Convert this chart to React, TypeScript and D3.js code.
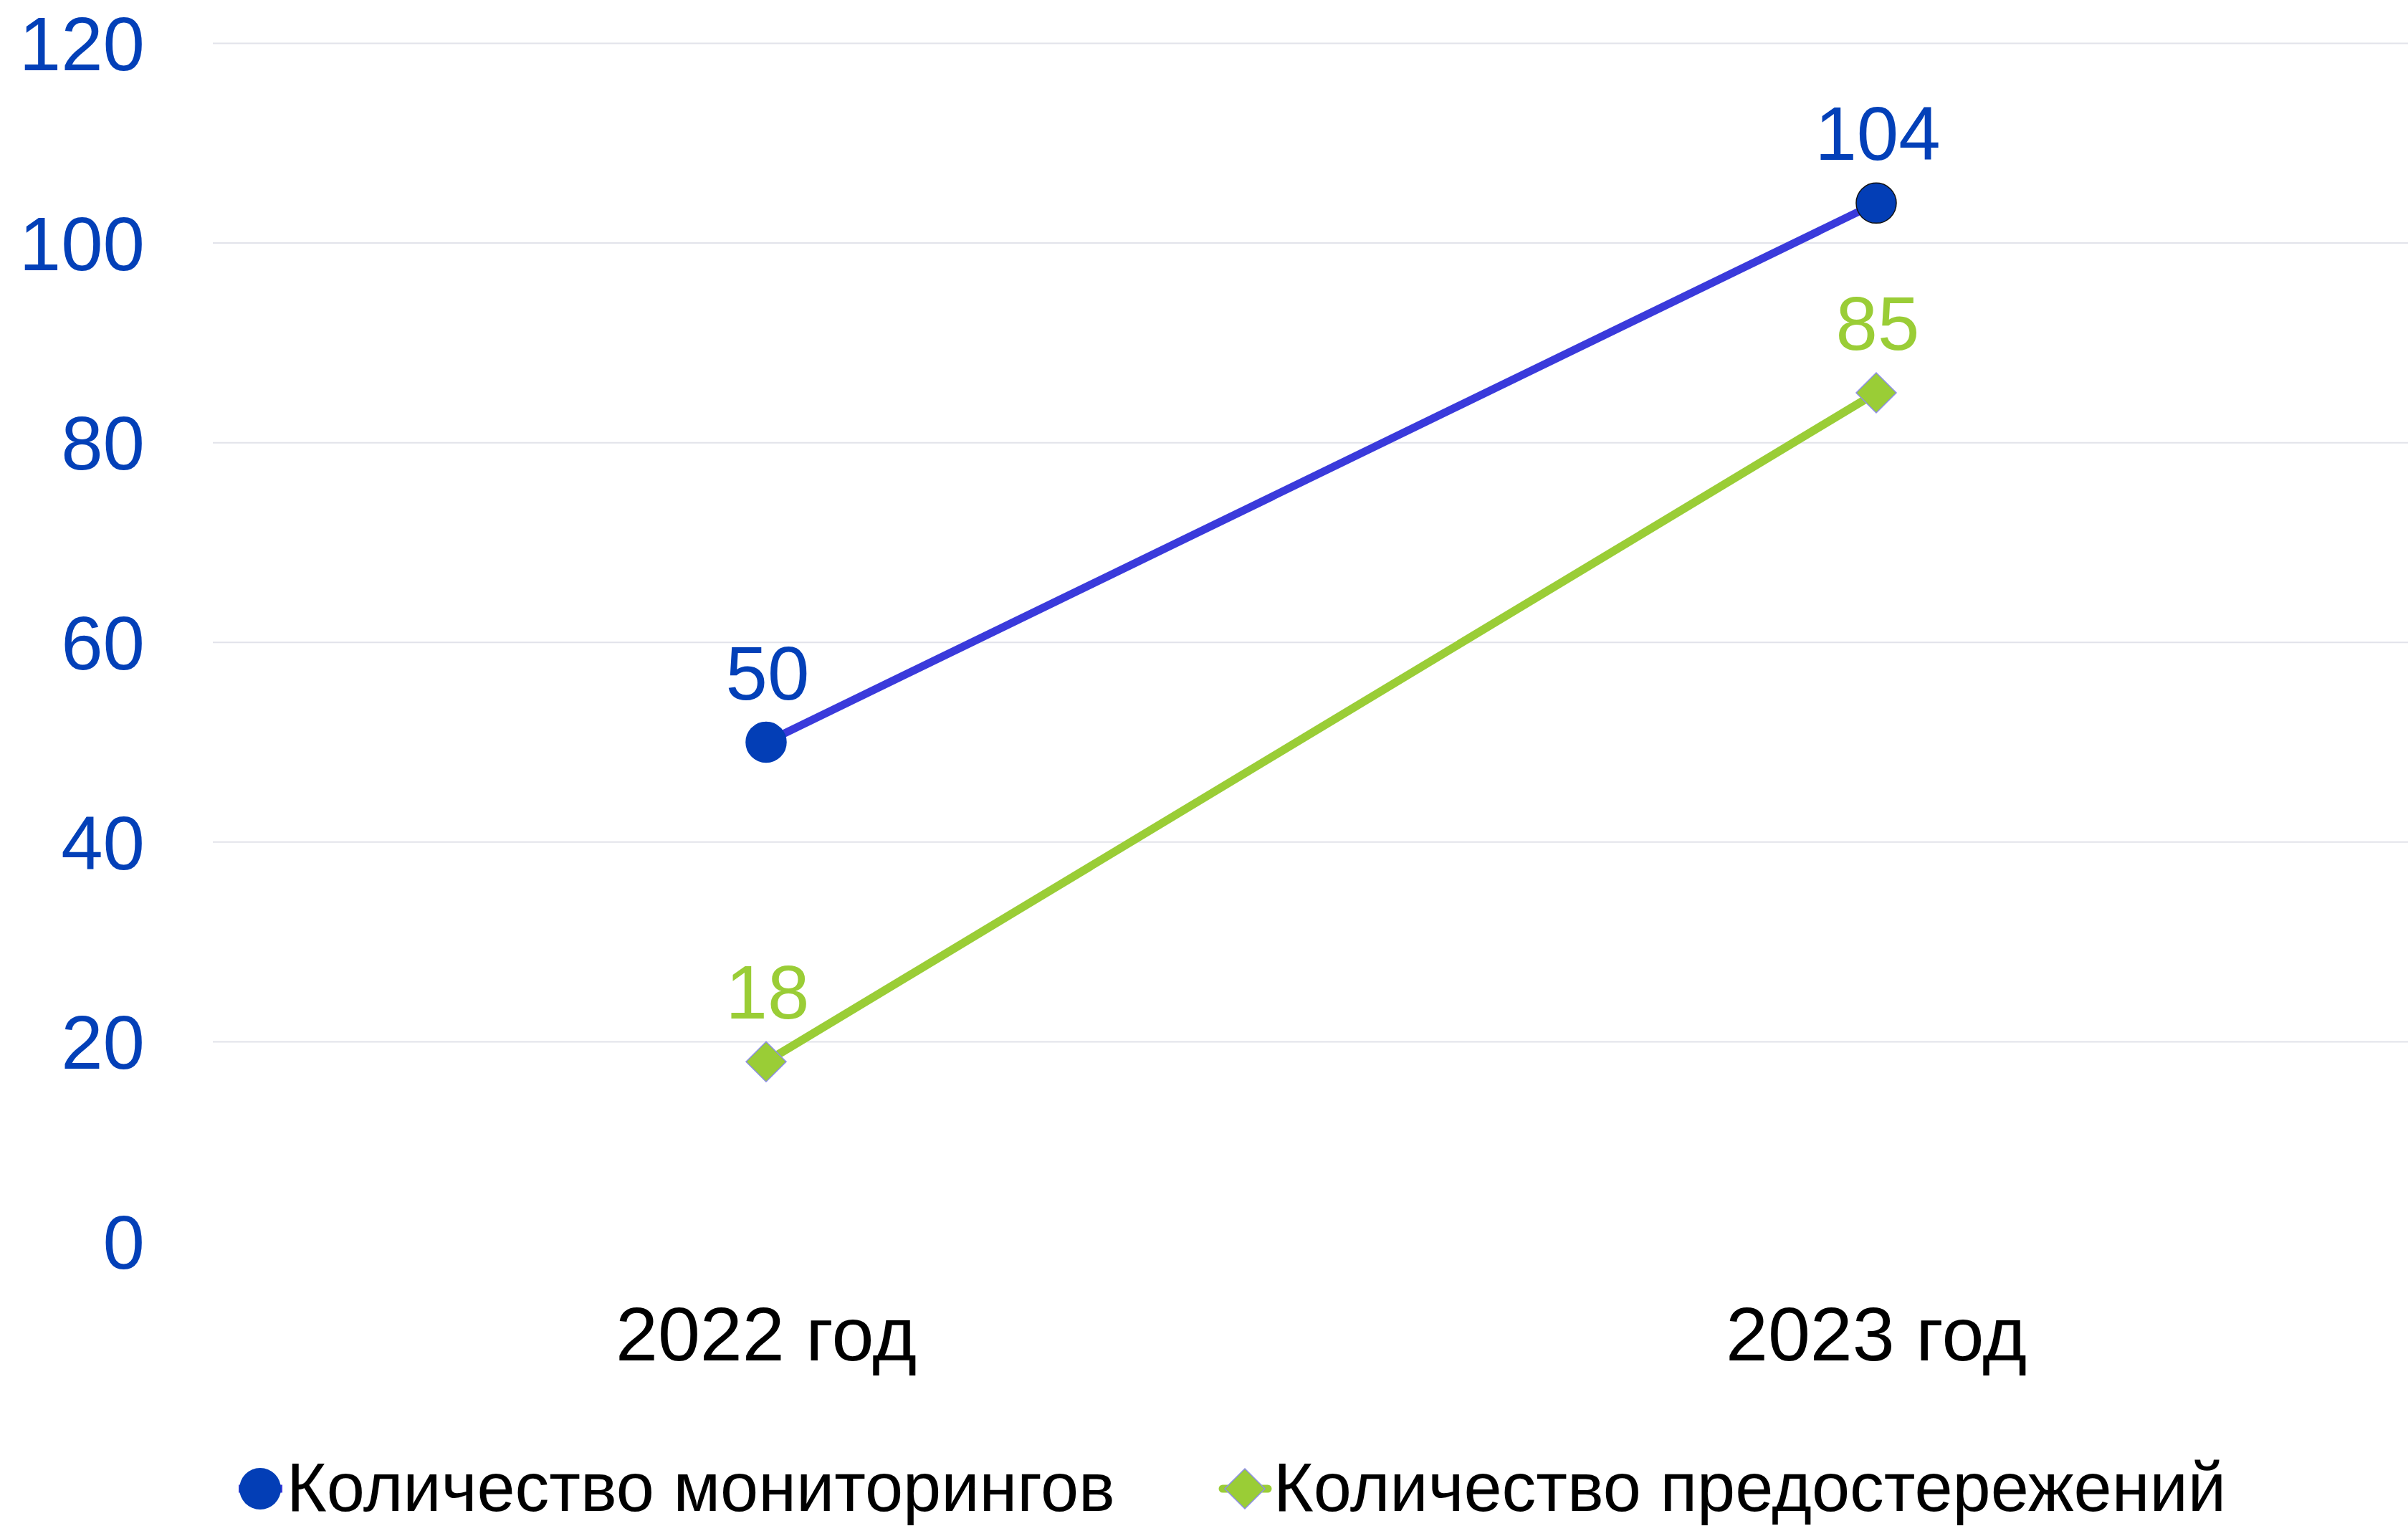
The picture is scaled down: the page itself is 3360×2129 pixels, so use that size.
import React from "react";
import * as d3 from "d3";

const categories = ["2022 год", "2023 год"];
const monitoringValues = [50, 104];
const warningValues = [18, 85];
const yTicks = [0, 20, 40, 60, 80, 100, 120];
const seriesNames = ["Количество мониторингов", "Количество предостережений"];

const W = 3360;
const H = 2129;
const FONT = "'Liberation Sans', Arial, sans-serif";
const BLUE_TEXT = "#0340B8";
const BLUE_LINE = "#3A3ADB";
const BLUE_MARK = "#033EB6";
const GREEN = "#9ACD36";

export default function App() {
  const x = d3.scalePoint<string>().domain(categories).range([1069, 2618]);
  const y = d3.scaleLinear().domain([0, 120]).range([1732, 60.5]);
  const gridLeft = 297;

  const line = d3
    .line<number>()
    .x((_, i) => x(categories[i]) as number)
    .y((d) => y(d));

  const diamond = (cx: number, cy: number, r: number) =>
    `M${cx},${cy - r}L${cx + r},${cy}L${cx},${cy + r}L${cx - r},${cy}Z`;

  return (
    <svg
      width={W}
      height={H}
      style={{ position: "absolute", left: 0, top: 0, background: "#fff" }}
      fontFamily={FONT}
    >
      <rect x={0} y={0} width={W} height={H} fill="#fff" />
      {yTicks
        .filter((t) => t !== 0)
        .map((t) => (
          <line
            key={"g" + t}
            x1={gridLeft}
            x2={W}
            y1={y(t)}
            y2={y(t)}
            stroke="#E2E3EA"
            strokeWidth={2}
          />
        ))}
      {yTicks.map((t) => (
        <text
          key={"yt" + t}
          x={202}
          y={y(t)}
          dy="0.36em"
          textAnchor="end"
          fontSize={105}
          fill={BLUE_TEXT}
        >
          {t}
        </text>
      ))}
      {categories.map((c) => (
        <text
          key={"x" + c}
          x={x(c)}
          y={1898}
          textAnchor="middle"
          fontSize={106}
          fill="#000"
        >
          {c}
        </text>
      ))}
      <path d={line(warningValues) || ""} fill="none" stroke={GREEN} strokeWidth={11.5} />
      <path d={line(monitoringValues) || ""} fill="none" stroke={BLUE_LINE} strokeWidth={11} />
      {monitoringValues.map((v, i) => (
        <circle
          key={"m" + i}
          cx={x(categories[i])}
          cy={y(v)}
          r={28}
          fill={BLUE_MARK}
          stroke={i === 1 ? "#111" : BLUE_MARK}
          strokeWidth={1.5}
        />
      ))}
      {warningValues.map((v, i) => (
        <path
          key={"w" + i}
          d={diamond(x(categories[i]) as number, y(v), 28)}
          fill={GREEN}
          stroke="#8E8EE8"
          strokeWidth={1.5}
        />
      ))}
      {monitoringValues.map((v, i) => (
        <text
          key={"ml" + i}
          x={(x(categories[i]) as number) + 2}
          y={y(v) - 60}
          textAnchor="middle"
          fontSize={105}
          fill={BLUE_TEXT}
        >
          {v}
        </text>
      ))}
      {warningValues.map((v, i) => (
        <text
          key={"wl" + i}
          x={(x(categories[i]) as number) + 2}
          y={y(v) - 60}
          textAnchor="middle"
          fontSize={105}
          fill={GREEN}
        >
          {v}
        </text>
      ))}
      <g>
        <line x1={333} x2={394} y1={2077} y2={2077} stroke={BLUE_LINE} strokeWidth={11} />
        <circle cx={363} cy={2077} r={29} fill={BLUE_MARK} />
        <text x={400} y={2108} fontSize={95.5} fill="#000">
          {seriesNames[0]}
        </text>
        <line x1={1706} x2={1769} y1={2077} y2={2077} stroke={GREEN} strokeWidth={11} strokeLinecap="round" />
        <path d={diamond(1737, 2077, 28)} fill={GREEN} stroke="#8E8EE8" strokeWidth={1.5} />
        <text x={1777} y={2108} fontSize={95.5} fill="#000">
          {seriesNames[1]}
        </text>
      </g>
    </svg>
  );
}
